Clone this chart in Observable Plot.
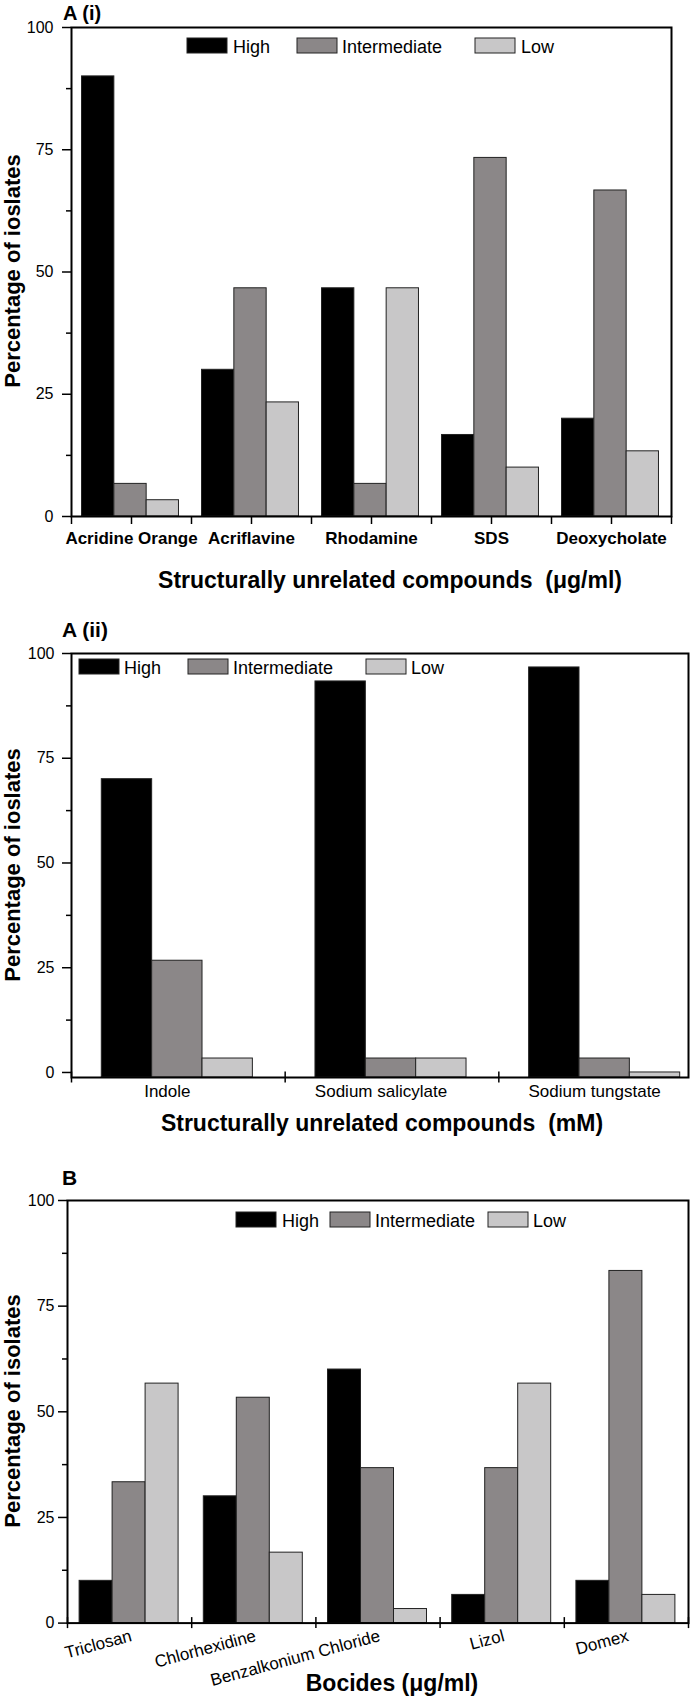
<!DOCTYPE html>
<html>
<head>
<meta charset="utf-8">
<script src="https://cdn.jsdelivr.net/npm/d3@7"></script>
<script src="https://cdn.jsdelivr.net/npm/@observablehq/plot@0.6"></script>
<style>
  body { margin: 0; background: #fff; }
  #page { position: relative; width: 692px; height: 1698px; overflow: hidden; background: #fff;
          font-family: "Liberation Sans", Arial, sans-serif; color: #000; }
  #page svg { position: absolute; left: 0; }
</style>
</head>
<body>
<div id="page"></div>
<script>
// ---------------- data ----------------
const series = ["High", "Intermediate", "Low"];
const seriesColors = ["#000000", "#8b8788", "#c8c7c8"];

const catsA1 = ["Acridine Orange", "Acriflavine", "Rhodamine", "SDS", "Deoxycholate"];
const highA1 = [90, 30, 46.67, 16.67, 20];
const interA1 = [6.67, 46.67, 6.67, 73.33, 66.67];
const lowA1 = [3.33, 23.33, 46.67, 10, 13.33];

const catsA2 = ["Indole", "Sodium salicylate", "Sodium tungstate"];
const highA2 = [70, 93.33, 96.67];
const interA2 = [26.67, 3.33, 3.33];
const lowA2 = [3.33, 3.33, 0];

const catsB = ["Triclosan", "Chlorhexidine", "Benzalkonium Chloride", "Lizol", "Domex"];
const highB = [10, 30, 60, 6.67, 10];
const interB = [33.33, 53.33, 36.67, 36.67, 83.33];
const lowB = [56.67, 16.67, 3.33, 56.67, 6.67];

const yTicks = [0, 25, 50, 75, 100];
const yMinorTicks = [12.5, 37.5, 62.5, 87.5];

const FONT = '"Liberation Sans", Arial, sans-serif';
const page = document.getElementById("page");

function buildRows(cats, vals) {
  const rows = [];
  cats.forEach((c, i) => series.forEach((s, k) => rows.push({cat: c, series: s, value: vals[k][i]})));
  return rows;
}

function makePanel(o) {
  const rows = buildRows(o.cats, o.vals);
  const bw = (o.xRange[1] - o.xRange[0]) / o.cats.length;
  const w = bw * o.barFrac / 3;
  const inset = (bw - w) / 2;
  const yMin = o.yDomain[0];
  const marks = [];
  marks.push(Plot.axisY({ticks: yTicks, tickSize: o.ytSize, tickPadding: o.ytPad, fontSize: 16, strokeWidth: 1.5}));
  marks.push(Plot.axisY({ticks: yMinorTicks, tickSize: 5, strokeWidth: 1.5, tickFormat: () => ""}));
  series.forEach((s, k) => {
    marks.push(Plot.barY(rows.filter(r => r.series === s), {
      x: "cat", y1: () => yMin, y2: "value",
      fill: seriesColors[k], stroke: "#222", strokeWidth: 1,
      insetLeft: inset, insetRight: inset, dx: (k - 1) * w + o.shift
    }));
  });
  marks.push(...o.xMarks(bw));
  marks.push(Plot.frame({strokeWidth: 2}));
  const svg = Plot.plot({
    width: 692, height: o.height,
    marginTop: o.mt, marginBottom: o.mb, marginLeft: o.ml, marginRight: o.mr,
    x: {type: "band", domain: o.cats, range: o.xRange, padding: 0, round: false, label: null},
    y: {domain: o.yDomain, label: null},
    style: {fontFamily: FONT, fontSize: "16px", color: "#000", background: "transparent", overflow: "visible"},
    marks
  });
  svg.style.top = o.top + "px";
  svg.style.maxWidth = "none";
  page.appendChild(svg);
}

// ---------- Panel A (i) ----------
makePanel({
  cats: catsA1, vals: [highA1, interA1, lowA1],
  top: 0, height: 560, mt: 27, mb: 44, ml: 71, mr: 21,
  xRange: [71, 671], yDomain: [0, 100], barFrac: 0.808, shift: -1,
  ytSize: 9, ytPad: 9,
  xMarks: bw => [
    Plot.axisX({tickSize: 8, tickPadding: 7.5, fontSize: 17, fontWeight: "bold", strokeWidth: 1.5}),
    Plot.axisX({tickSize: 8, strokeWidth: 1.5, dx: bw / 2, tickFormat: () => ""}),
    Plot.axisX({ticks: [catsA1[0]], tickSize: 8, strokeWidth: 1.5, dx: -bw / 2, tickFormat: () => ""})
  ]
});

// ---------- Panel A (ii) ----------
makePanel({
  cats: catsA2, vals: [highA2, interA2, lowA2],
  top: 600, height: 520, mt: 53, mb: 43, ml: 71, mr: 4,
  xRange: [71, 712], yDomain: [-1.2, 100], barFrac: 0.707, shift: -1,
  ytSize: 9, ytPad: 8,
  xMarks: bw => [
    Plot.axisX({tickSize: 0, tickPadding: 7, fontSize: 17, dx: -11}),
    Plot.axisX({tickSize: 11, dy: -5.5, strokeWidth: 1.5, dx: bw / 2, tickFormat: () => ""}),
    Plot.axisX({ticks: [catsA2[0]], tickSize: 11, dy: -5.5, strokeWidth: 1.5, dx: -bw / 2, tickFormat: () => ""})
  ]
});

// ---------- Panel B ----------
makePanel({
  cats: catsB, vals: [highB, interB, lowB],
  top: 1140, height: 558, mt: 60, mb: 75.4, ml: 67, mr: 4,
  xRange: [67, 688], yDomain: [0, 100], barFrac: 0.797, shift: -0.5,
  ytSize: 9, ytPad: 4,
  xMarks: bw => [
    Plot.text(catsB, {x: d => d, y: () => 0, rotate: -15, textAnchor: "end", lineAnchor: "top", dy: 6, fontSize: 17}),
    Plot.axisX({tickSize: 11, dy: -5.5, strokeWidth: 1.5, dx: bw / 2, tickFormat: () => ""}),
    Plot.axisX({ticks: [catsB[0]], tickSize: 11, dy: -5.5, strokeWidth: 1.5, dx: -bw / 2, tickFormat: () => ""})
  ]
});

// ---------- annotations (titles, axis titles, legends) ----------
const ov = d3.select(page).append("svg")
  .attr("width", 692).attr("height", 1698)
  .style("top", "0px").style("pointer-events", "none")
  .style("font-family", FONT);

function label(x, y, s, size, weight, anchor, rot) {
  return ov.append("text").attr("x", 0).attr("y", 0)
    .attr("transform", `translate(${x},${y})` + (rot ? ` rotate(${rot})` : ""))
    .attr("font-size", size).attr("font-weight", weight || "normal")
    .attr("text-anchor", anchor || "start")
    .style("white-space", "pre").text(s);
}

function legend(y, swatchX, textX) {
  series.forEach((s, k) => {
    ov.append("rect").attr("x", swatchX[k]).attr("y", y).attr("width", 40).attr("height", 15)
      .attr("fill", seriesColors[k]).attr("stroke", "#222").attr("stroke-width", 1);
    label(textX[k], y + 14.5, s, 18, "normal", "start");
  });
}

// A (i)
label(63, 19.5, "A (i)", 20, "bold");
label(20, 271, "Percentage of ioslates", 22, "bold", "middle", -90);
label(390, 588, "Structurally unrelated compounds  (\u03bcg/ml)", 23, "bold", "middle");
legend(38, [187, 297, 475], [233, 342, 521]);

// A (ii)
label(62, 637, "A (ii)", 21, "bold");
label(20, 865, "Percentage of ioslates", 22, "bold", "middle", -90);
label(382, 1131, "Structurally unrelated compounds  (mM)", 23, "bold", "middle");
legend(659, [79, 188, 366], [124, 233, 411]);

// B
label(62, 1185, "B", 21, "bold");
label(20, 1411, "Percentage of isolates", 22, "bold", "middle", -90);
label(392, 1691, "Bocides (\u03bcg/ml)", 23, "bold", "middle");
legend(1212, [236, 330, 488], [282, 375, 533]);
</script>
</body>
</html>
